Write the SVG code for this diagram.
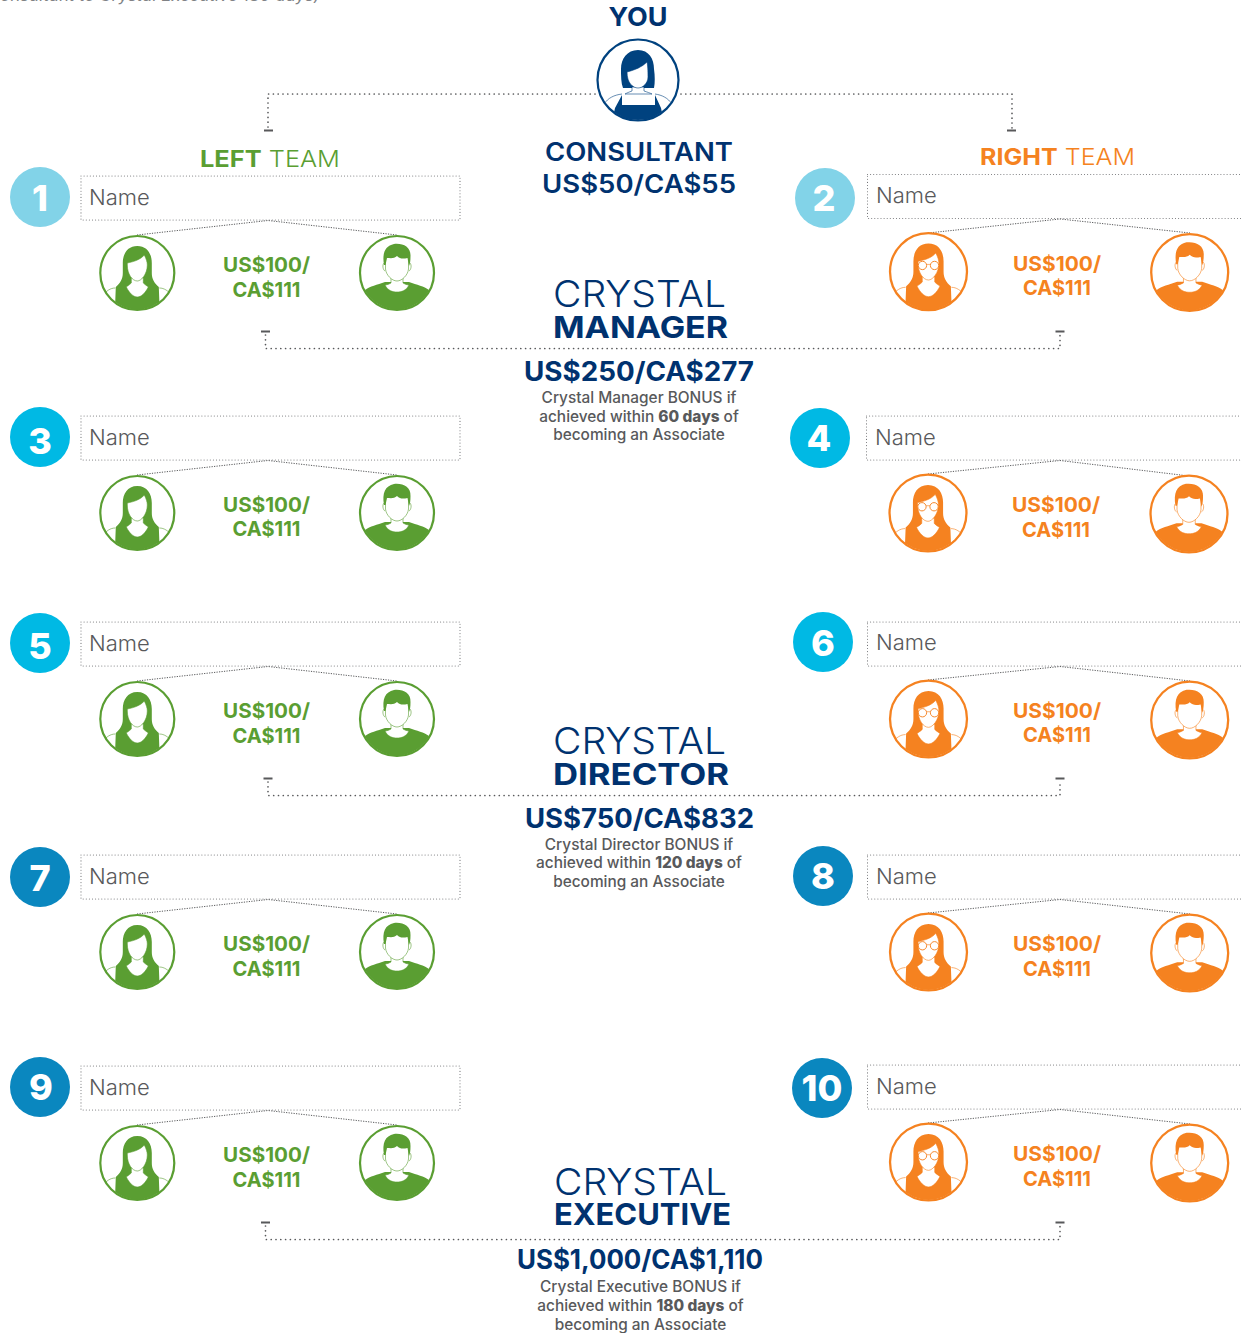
<svg xmlns="http://www.w3.org/2000/svg" width="1241" height="1333" viewBox="0 0 1241 1333">
<style>
text{font-family:"Inter","Liberation Sans",Arial,sans-serif}
.navy{fill:#00326f}
.b{font-weight:700}
.mid{text-anchor:middle}
.y{font-size:26px;font-weight:700}
.c{font-size:25px;font-weight:600}
.th{font-size:37px;font-weight:300}
.tb{font-size:30px;font-weight:700}
.pr{font-size:26.500px;font-weight:700}
.d{font-size:15.400px;fill:#58595b;font-weight:500;text-anchor:middle}
.d tspan{font-weight:800}
.nm{font-size:22px;font-weight:300;fill:#58595b}
.am{font-size:20.500px;font-weight:700;text-anchor:middle}
.num{font-size:36px;font-weight:800;fill:#fff;text-anchor:middle}
.gr{color:#5a9e32;fill:#5a9e32}
.or{color:#f58220;fill:#f58220}
.box{fill:none;stroke:#6d6e71;stroke-width:1.100;stroke-linecap:round;stroke-dasharray:0 3.100}
.l1{fill:none;stroke:#58595b;stroke-width:1.700;stroke-linecap:round;stroke-dasharray:0 4.800}
.l2{fill:none;stroke:#58595b;stroke-width:1;stroke-dasharray:1.200 1.300}
.tick{fill:#58595b}
.b1{fill:#82d3e8}.b2{fill:#00b9e4}.b3{fill:#0a87bf}
.ring{fill:#fff;stroke:currentColor;stroke-width:2.200}
.fc{fill:currentColor}
.ol{fill:none;stroke:currentColor;stroke-width:.6}
.olw{fill:#fff;stroke:currentColor;stroke-width:.6}
.gl{fill:#fff;stroke:currentColor;stroke-width:.9}
</style>
<defs>
<clipPath id="cp"><circle r="36.500"/></clipPath>
<clipPath id="cpc"><circle r="40"/></clipPath>
<g id="woman">
<circle class="ring" r="37"/>
<g clip-path="url(#cp)">
<path class="ol" d="M-22 15C-27 15-31 18-34 22M22 15C27 15 31 18 34 22"/>
<path class="fc" d="M0-27C-10-27-14.500-19-14.500-10L-14.500 0C-14.500 6-17 10-21.500 14L-22.500 40L22.500 40L21.500 14C17 10 14.500 6 14.500 0L14.500-10C14.500-19 10-27 0-27Z"/>
<path class="olw" d="M-6 5L-6 10C-8 12-10 13-11 14C-8 20-4 24 0 24C4 24 8 20 11 14C10 13 8 12 6 10L6 5Z"/>
<path class="olw" d="M-10-10C-5-11 3-13 7-18C9-14 10-11 10-8C10 1 4 8 0 8C-5 8-10 1-10-8Z"/>
</g>
</g>
<g id="womang">
<use href="#woman"/>
<circle class="gl" cx="-5.800" cy="-6" r="4"/><circle class="gl" cx="5.800" cy="-6" r="4"/>
<path class="ol" d="M-1.800-7L1.800-7M-9.800-7L-11-8M9.800-7L11-8"/>
</g>
<g id="man">
<circle class="ring" r="37"/>
<g clip-path="url(#cp)">
<path class="fc" d="M-32 17C-27 13-20 12-12 9L12 9C20 12 27 13 32 17L38 40L-38 40Z"/>
<path class="olw" d="M-6 3L-6 10C-8 11-10 12-12 12C-9 18-4 19 0 19C4 19 9 18 12 12C10 12 8 11 6 10L6 3Z"/>
<path class="olw" d="M-13-10C-15-8-14-3-12-2M13-10C15-8 14-3 12-2"/>
<path class="olw" d="M-11.500-20L-11.500-4C-11 2-5 8 0 8C5 8 11 2 11.500-4L11.500-20Z"/>
<path class="fc" d="M-13-8C-15-20-12-27-3-29C6-30 14-26 13.500-17C13.500-12 13-9 12-7L10.500-15C6-14 3-14 0-17C-3-14-7-15-10-15L-11.500-8Z"/>
</g>
</g>
</defs>

<text x="-12" y="1" font-size="16" font-style="italic" fill="#808285" font-weight="400" textLength="332" lengthAdjust="spacingAndGlyphs">Consultant to Crystal Executive 180 days)</text>

<g id="connectors">
<path class="l1" d="M595 94H268V129M681 94H1012V129"/>
<rect class="tick" x="264" y="129.500" width="9" height="2"/><rect class="tick" x="1007" y="129.500" width="9" height="2"/>
<path class="l1" d="M265.500 335V348.500H1060V335"/>
<rect class="tick" x="261" y="330.500" width="9" height="2"/><rect class="tick" x="1055.500" y="330.500" width="9" height="2"/>
<path class="l1" d="M268 782V795.500H1060V782"/>
<rect class="tick" x="263.500" y="777.500" width="9" height="2"/><rect class="tick" x="1055.500" y="777.500" width="9" height="2"/>
<path class="l1" d="M265.500 1226V1239.500H1060V1226"/>
<rect class="tick" x="261" y="1221.500" width="9" height="2"/><rect class="tick" x="1055.500" y="1221.500" width="9" height="2"/>
<path class="l2" d="M137 235L268 220.500L397 235"/>
<path class="l2" d="M137 475L268 460.500L397 475"/>
<path class="l2" d="M137 681L268 666.500L397 681"/>
<path class="l2" d="M137 914L268 899.500L397 914"/>
<path class="l2" d="M137 1125L268 1110.500L397 1125"/>
<path class="l2" d="M928 233L1060 219L1190 233"/>
<path class="l2" d="M928 474L1060 460.500L1189 476"/>
<path class="l2" d="M928 680L1060 666.500L1190 681"/>
<path class="l2" d="M928 913L1060 899.500L1190 914"/>
<path class="l2" d="M928 1123L1060 1109.500L1190 1124"/>
</g>

<g id="you">
<text class="navy y mid" x="638" y="26" textLength="59" lengthAdjust="spacingAndGlyphs">YOU</text>
<g transform="translate(638 80)" style="color:#00427f">
<circle class="ring" r="40.500"/>
<g clip-path="url(#cpc)">
<path class="ol" d="M-16 14C-24 15-30 18-34 24M17 14C24 15 30 18 34 24"/>
<path class="fc" d="M-16 15L-16 25L17 25L17 15L23 28L26 42L-26 42L-23 28Z"/>
<path class="fc" d="M0-30C-11-30-17-21-17-11C-17-4-17 3-15 8L16 8C17 3 17-4 16-11C16-21 11-30 0-30Z"/>
<path class="olw" d="M-6 7L-6 11C-9 12-11 13-13 14L14 14C12 13 9 12 6 11L6 7Z"/>
<path class="olw" d="M-11-8C-3-10 4-13 9-18C10-13 10-6 10-3C10 3 5 8 0 8C-5 8-11 3-11-8Z"/>
</g>
</g>
<text class="navy c mid" x="639" y="161" textLength="188" lengthAdjust="spacingAndGlyphs">CONSULTANT</text>
<text class="navy c mid b" x="639" y="193" textLength="194" lengthAdjust="spacingAndGlyphs">US$50/CA$55</text>
</g>

<g id="team-left"><text class="gr" x="200" y="167" font-size="23" font-weight="300" textLength="140" lengthAdjust="spacingAndGlyphs"><tspan font-weight="700">LEFT</tspan> TEAM</text></g>
<g id="team-right"><text class="or" x="980" y="165" font-size="23" font-weight="300" textLength="155" lengthAdjust="spacingAndGlyphs"><tspan font-weight="700">RIGHT</tspan> TEAM</text></g>

<g id="crystal-manager">
<text class="navy th" x="553" y="307" textLength="173" lengthAdjust="spacingAndGlyphs">CRYSTAL</text>
<text class="navy tb" x="553" y="338" textLength="175" lengthAdjust="spacingAndGlyphs">MANAGER</text>
<text class="navy pr" x="524" y="380.500" textLength="230" lengthAdjust="spacingAndGlyphs">US$250/CA$277</text>
<text class="d" x="639" y="403">Crystal Manager BONUS if</text>
<text class="d" x="639" y="422">achieved within <tspan>60 days</tspan> of</text>
<text class="d" x="639" y="440">becoming an Associate</text>
</g>
<g id="crystal-director">
<text class="navy th" x="553" y="754" textLength="173" lengthAdjust="spacingAndGlyphs">CRYSTAL</text>
<text class="navy tb" x="553" y="785" textLength="176" lengthAdjust="spacingAndGlyphs">DIRECTOR</text>
<text class="navy pr" x="525" y="827.500" textLength="229" lengthAdjust="spacingAndGlyphs">US$750/CA$832</text>
<text class="d" x="639" y="850">Crystal Director BONUS if</text>
<text class="d" x="639" y="868">achieved within <tspan>120 days</tspan> of</text>
<text class="d" x="639" y="887">becoming an Associate</text>
</g>
<g id="crystal-executive">
<text class="navy th" x="554" y="1195" textLength="173" lengthAdjust="spacingAndGlyphs">CRYSTAL</text>
<text class="navy tb" x="554" y="1225" textLength="177" lengthAdjust="spacingAndGlyphs">EXECUTIVE</text>
<text class="navy pr" x="517" y="1269" textLength="246" lengthAdjust="spacingAndGlyphs">US$1,000/CA$1,110</text>
<text class="d" x="640.500" y="1292">Crystal Executive BONUS if</text>
<text class="d" x="640.500" y="1311">achieved within <tspan>180 days</tspan> of</text>
<text class="d" x="640.500" y="1330">becoming an Associate</text>
</g>

<g id="node-1">
<circle class="b1" cx="40" cy="197" r="30"/><text class="num" x="40" y="211">1</text>
<rect class="box" x="81" y="176" width="379" height="44"/><text class="nm" x="89" y="205">Name</text>
<use class="gr" href="#woman" transform="translate(137.300 273)"/><use class="gr" href="#man" transform="translate(397 273)"/>
<text class="am gr" x="266.500" y="272" textLength="87" lengthAdjust="spacingAndGlyphs">US$100/</text><text class="am gr" x="266.500" y="297" textLength="68" lengthAdjust="spacingAndGlyphs">CA$111</text>
</g>
<g id="node-2">
<circle class="b1" cx="825" cy="198" r="30"/><text class="num" x="824" y="211">2</text>
<rect class="box" x="867.500" y="174.500" width="380" height="44"/><text class="nm" x="876" y="203">Name</text>
<use class="or" href="#womang" transform="translate(928.500 271.700) scale(1.04)"/><use class="or" href="#man" transform="translate(1189.700 272.500) scale(1.04)"/>
<text class="am or" x="1057" y="271" textLength="88" lengthAdjust="spacingAndGlyphs">US$100/</text><text class="am or" x="1057" y="295" textLength="68" lengthAdjust="spacingAndGlyphs">CA$111</text>
</g>
<g id="node-3">
<circle class="b2" cx="40" cy="437" r="30"/><text class="num" x="40" y="454">3</text>
<rect class="box" x="81" y="416" width="379" height="44"/><text class="nm" x="89" y="445">Name</text>
<use class="gr" href="#woman" transform="translate(137.300 513)"/><use class="gr" href="#man" transform="translate(397 513)"/>
<text class="am gr" x="266.500" y="512" textLength="87" lengthAdjust="spacingAndGlyphs">US$100/</text><text class="am gr" x="266.500" y="536" textLength="68" lengthAdjust="spacingAndGlyphs">CA$111</text>
</g>
<g id="node-4">
<circle class="b2" cx="820" cy="438" r="30"/><text class="num" x="819" y="451">4</text>
<rect class="box" x="866.500" y="416" width="380" height="44"/><text class="nm" x="875" y="445">Name</text>
<use class="or" href="#womang" transform="translate(928 513) scale(1.04)"/><use class="or" href="#man" transform="translate(1189 514) scale(1.04)"/>
<text class="am or" x="1056" y="512" textLength="88" lengthAdjust="spacingAndGlyphs">US$100/</text><text class="am or" x="1056" y="537" textLength="68" lengthAdjust="spacingAndGlyphs">CA$111</text>
</g>
<g id="node-5">
<circle class="b2" cx="40" cy="643" r="30"/><text class="num" x="40" y="659">5</text>
<rect class="box" x="81" y="622" width="379" height="44"/><text class="nm" x="89" y="651">Name</text>
<use class="gr" href="#woman" transform="translate(137.300 719)"/><use class="gr" href="#man" transform="translate(397 719)"/>
<text class="am gr" x="266.500" y="718" textLength="87" lengthAdjust="spacingAndGlyphs">US$100/</text><text class="am gr" x="266.500" y="743" textLength="68" lengthAdjust="spacingAndGlyphs">CA$111</text>
</g>
<g id="node-6">
<circle class="b2" cx="823" cy="642" r="30"/><text class="num" x="823" y="656">6</text>
<rect class="box" x="867.500" y="622" width="380" height="44"/><text class="nm" x="876" y="650">Name</text>
<use class="or" href="#womang" transform="translate(928.500 719) scale(1.04)"/><use class="or" href="#man" transform="translate(1189.700 720) scale(1.04)"/>
<text class="am or" x="1057" y="718" textLength="88" lengthAdjust="spacingAndGlyphs">US$100/</text><text class="am or" x="1057" y="742" textLength="68" lengthAdjust="spacingAndGlyphs">CA$111</text>
</g>
<g id="node-7">
<circle class="b3" cx="40" cy="877" r="30"/><text class="num" x="40" y="891">7</text>
<rect class="box" x="81" y="855" width="379" height="44"/><text class="nm" x="89" y="884">Name</text>
<use class="gr" href="#woman" transform="translate(137.300 952)"/><use class="gr" href="#man" transform="translate(397 952)"/>
<text class="am gr" x="266.500" y="951" textLength="87" lengthAdjust="spacingAndGlyphs">US$100/</text><text class="am gr" x="266.500" y="976" textLength="68" lengthAdjust="spacingAndGlyphs">CA$111</text>
</g>
<g id="node-8">
<circle class="b3" cx="823" cy="876" r="30"/><text class="num" x="823" y="889">8</text>
<rect class="box" x="867.500" y="855" width="380" height="44"/><text class="nm" x="876" y="884">Name</text>
<use class="or" href="#womang" transform="translate(928.500 952) scale(1.04)"/><use class="or" href="#man" transform="translate(1189.700 953) scale(1.04)"/>
<text class="am or" x="1057" y="951" textLength="88" lengthAdjust="spacingAndGlyphs">US$100/</text><text class="am or" x="1057" y="976" textLength="68" lengthAdjust="spacingAndGlyphs">CA$111</text>
</g>
<g id="node-9">
<circle class="b3" cx="40" cy="1087" r="30"/><text class="num" x="41" y="1100">9</text>
<rect class="box" x="81" y="1066" width="379" height="44"/><text class="nm" x="89" y="1095">Name</text>
<use class="gr" href="#woman" transform="translate(137.300 1163)"/><use class="gr" href="#man" transform="translate(397 1163)"/>
<text class="am gr" x="266.500" y="1162" textLength="87" lengthAdjust="spacingAndGlyphs">US$100/</text><text class="am gr" x="266.500" y="1187" textLength="68" lengthAdjust="spacingAndGlyphs">CA$111</text>
</g>
<g id="node-10">
<circle class="b3" cx="822" cy="1088" r="30"/><text class="num" x="822" y="1101">10</text>
<rect class="box" x="867.500" y="1065" width="380" height="44"/><text class="nm" x="876" y="1094">Name</text>
<use class="or" href="#womang" transform="translate(928.500 1162) scale(1.04)"/><use class="or" href="#man" transform="translate(1189.700 1163) scale(1.04)"/>
<text class="am or" x="1057" y="1161" textLength="88" lengthAdjust="spacingAndGlyphs">US$100/</text><text class="am or" x="1057" y="1186" textLength="68" lengthAdjust="spacingAndGlyphs">CA$111</text>
</g>
</svg>
